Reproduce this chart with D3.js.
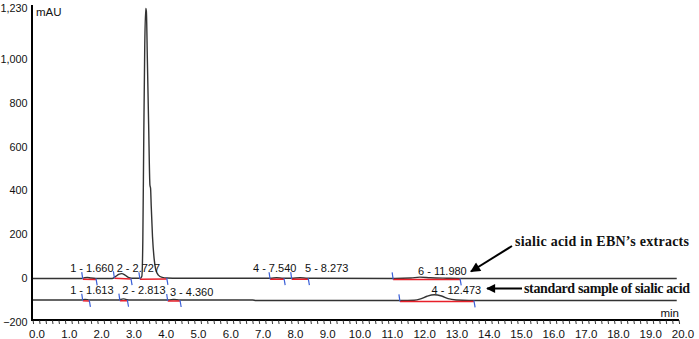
<!DOCTYPE html>
<html>
<head>
<meta charset="utf-8">
<script src="https://cdn.jsdelivr.net/npm/d3@7"></script>
<style>
  body { margin: 0; background: #fff; }
  svg { display: block; font-family: Arial, "Liberation Sans", sans-serif; }
</style>
</head>
<body>
<svg id="chart" width="699" height="339"></svg>
<script>
// chromatogram, two traces (mAU vs min)
var extractTrace = [
  [0, 0], [1.50, 0], [1.60, 3], [1.68, 4], [1.78, 2], [1.95, 0],
  [2.45, 0], [2.55, 8], [2.65, 18], [2.75, 22], [2.85, 15], [2.95, 5], [3.05, 1],
  [3.33, 1], [3.37, 10], [3.40, 170], [3.43, 650], [3.46, 1060], [3.49, 1228], [3.51, 1215],
  [3.54, 1000], [3.58, 700], [3.62, 425], [3.64, 410], [3.66, 330], [3.70, 190], [3.75, 90],
  [3.80, 40], [3.88, 15], [4.00, 5], [4.15, 2], [4.50, 1],
  [7.35, 1], [7.54, 3], [7.75, 1], [8.00, 1], [8.27, 3], [8.50, 1],
  [11.20, 0], [11.70, 2], [11.98, 6], [12.30, 3], [12.80, 1], [13.20, 0], [19.93, 0]
];
var standardTrace = [
  [0, -98], [1.50, -98], [1.61, -95], [1.75, -98], [2.65, -98], [2.75, -94], [2.81, -93],
  [2.92, -97], [3.00, -98], [4.20, -98], [4.36, -96], [4.55, -98], [6.80, -98], [6.90, -100],
  [11.40, -100], [11.80, -99], [12.00, -93], [12.20, -81], [12.42, -74], [12.65, -80],
  [12.85, -92], [13.10, -98], [13.50, -100], [19.93, -100]
];
var traceOffsets = [0, -100];

// integrated peaks: name, start, end
var extractPeaks = [
  ["1 - 1.660", 1.54, 1.95], ["2 - 2.727", 2.52, 3.03], ["", 3.31, 4.14],
  ["4 - 7.540", 7.34, 7.77], ["5 - 8.273", 8.01, 8.52], ["6 - 11.980", 11.15, 13.22]
];
var standardPeaks = [
  ["1 - 1.613", 1.54, 1.74], ["2 - 2.813", 2.69, 2.92],
  ["3 - 4.360", 4.17, 4.55], ["4 - 12.473", 11.36, 13.65]
];
// label placement (min, px above baseline)
var extractLabelPos = [[1.15, 6], [2.59, 6], [0, 0], [6.81, 6], [8.42, 6], [11.92, 3.5]];
var standardLabelPos = [[1.15, 6], [2.76, 6], [4.24, 4], [12.34, 6]];

var xTicks = d3.range(0, 20.01, 1);
var yTicks = [-200, 0, 200, 400, 600, 800, 1000, 1230];

var svg = d3.select("#chart");
var x = d3.scaleLinear().domain([0, 20]).range([33, 679]);
var y = d3.scaleLinear().domain([-189, 1230]).range([320, 8]);

function valueAt(pts, t) {
  for (var i = 1; i < pts.length; i++) {
    if (pts[i][0] >= t) {
      var a = pts[i - 1], b = pts[i];
      return a[1] + (b[1] - a[1]) * (t - a[0]) / (b[0] - a[0]);
    }
  }
  return pts[pts.length - 1][1];
}

var line = d3.line()
  .x(function (d) { return x(d[0]); })
  .y(function (d) { return y(d[1]); })
  .curve(d3.curveMonotoneX);

// traces
[extractTrace, standardTrace].forEach(function (tr) {
  svg.append("path")
    .attr("d", line(tr))
    .attr("fill", "none")
    .attr("stroke", "#333")
    .attr("stroke-width", 1.4);
});

function drawPeaks(peaks, pos, tr, base) {
  var g = svg.append("g");
  peaks.forEach(function (p, i) {
    var x1 = x(p[1]), x2 = x(p[2]);
    var y1 = y(valueAt(tr, p[1])) + 1, y2 = y(valueAt(tr, p[2])) + 1;
    g.append("line").attr("x1", x1).attr("y1", y1).attr("x2", x2).attr("y2", y2)
      .attr("stroke", "#e8202a").attr("stroke-width", 1.5);
    g.append("line").attr("x1", x1 - 1).attr("y1", y1 - 7).attr("x2", x1).attr("y2", y1)
      .attr("stroke", "#3a5fd8").attr("stroke-width", 1.2);
    g.append("line").attr("x1", x2).attr("y1", y2 - 1).attr("x2", x2 + 1.2).attr("y2", y2 + 6)
      .attr("stroke", "#3a5fd8").attr("stroke-width", 1.2);
    if (p[0]) {
      g.append("text")
        .attr("x", x(pos[i][0]))
        .attr("y", y(base) - pos[i][1])
        .attr("font-size", 11)
        .attr("fill", "#111")
        .text(p[0]);
    }
  });
}
drawPeaks(extractPeaks, extractLabelPos, extractTrace, traceOffsets[0]);
drawPeaks(standardPeaks, standardLabelPos, standardTrace, traceOffsets[1]);

// axes
var xAxis = svg.append("g").attr("transform", "translate(0,320)");
xAxis.append("line").attr("x1", 32).attr("x2", 679).attr("stroke", "#000").attr("stroke-width", 2);
xAxis.selectAll(".minor").data(d3.range(0, 100.5, 1)).enter().append("line")
  .attr("x1", function (d) { return x(d / 5); })
  .attr("x2", function (d) { return x(d / 5) + 0.6; })
  .attr("y1", 0).attr("y2", 4)
  .attr("stroke", "#222").attr("stroke-width", 0.9);
xAxis.selectAll(".lbl").data(xTicks).enter().append("text")
  .attr("x", function (d) { return x(d) + 4; })
  .attr("y", 18)
  .attr("text-anchor", "middle")
  .attr("font-size", 11.5)
  .attr("fill", "#111")
  .text(function (d) { return d.toFixed(1); });
xAxis.append("text").attr("x", 679).attr("y", -3).attr("text-anchor", "end")
  .attr("font-size", 11.5).attr("fill", "#111").text("min");

svg.append("line").attr("x1", 32).attr("x2", 32).attr("y1", 5).attr("y2", 321)
  .attr("stroke", "#000").attr("stroke-width", 2);
svg.selectAll(".ylbl").data(yTicks).enter().append("text")
  .attr("x", 27.5)
  .attr("y", function (d) { return y(d) + 4; })
  .attr("text-anchor", "end")
  .attr("font-size", 10.8)
  .attr("fill", "#111")
  .text(function (d) { return d3.format(",")(d); });
svg.append("text").attr("x", 36).attr("y", 16).attr("font-size", 11.5)
  .attr("fill", "#111").text("mAU");

// annotations
var defs = svg.append("defs");
defs.append("marker").attr("id", "head").attr("viewBox", "0 0 10 10")
  .attr("refX", 9).attr("refY", 5).attr("markerWidth", 8).attr("markerHeight", 5)
  .attr("markerUnits", "strokeWidth").attr("orient", "auto")
  .append("path").attr("d", "M0,0 L10,5 L0,10 z").attr("fill", "#000");

svg.append("line").attr("x1", 512).attr("y1", 246).attr("x2", 471).attr("y2", 271.5)
  .attr("stroke", "#000").attr("stroke-width", 2).attr("marker-end", "url(#head)");
svg.append("line").attr("x1", 522).attr("y1", 288.5).attr("x2", 487).attr("y2", 288.5)
  .attr("stroke", "#000").attr("stroke-width", 1.8).attr("marker-end", "url(#head)");

svg.append("text").attr("x", 515).attr("y", 246)
  .attr("font-family", "'Liberation Serif', 'Times New Roman', serif")
  .attr("font-weight", "bold").attr("font-size", 14).attr("fill", "#111")
  .attr("textLength", 174).attr("lengthAdjust", "spacing")
  .text("sialic acid in EBN\u2019s extracts");
svg.append("text").attr("x", 524).attr("y", 292.5)
  .attr("font-family", "'Liberation Serif', 'Times New Roman', serif")
  .attr("font-weight", "bold").attr("font-size", 14).attr("fill", "#111")
  .attr("textLength", 166).attr("lengthAdjust", "spacing")
  .text("standard sample of sialic acid");
</script>
</body>
</html>
